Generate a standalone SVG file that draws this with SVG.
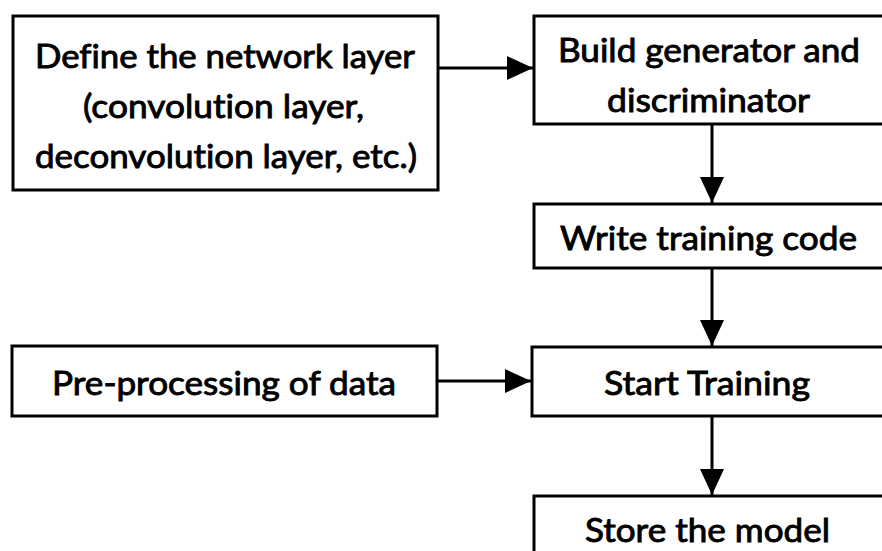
<svg xmlns="http://www.w3.org/2000/svg" width="882" height="551" viewBox="0 0 882 551">
<style>
.box{fill:#fff;stroke:#000;stroke-width:3}
.lbl{font-family:Lato,"Liberation Sans",sans-serif;font-size:33px;fill:#000;stroke:#000;stroke-width:0.9;text-anchor:middle;font-variant-ligatures:none}
.edge{stroke:#000;stroke-width:3;fill:none}
</style>
<defs>
<marker id="arr" markerUnits="userSpaceOnUse" markerWidth="28" markerHeight="26" refX="26" refY="12" orient="auto">
<path d="M0,0 L26,12 L0,24 Z" fill="#000"/>
</marker>
</defs>
<rect width="882" height="551" fill="#fff"/>
<g id="connectors">
<line class="edge" x1="438" y1="68" x2="533" y2="68" marker-end="url(#arr)"/>
<line class="edge" x1="712" y1="124" x2="712" y2="203" marker-end="url(#arr)"/>
<line class="edge" x1="712" y1="268" x2="712" y2="346" marker-end="url(#arr)"/>
<line class="edge" x1="437" y1="381" x2="531" y2="381" marker-end="url(#arr)"/>
<line class="edge" x1="712" y1="416" x2="712" y2="495" marker-end="url(#arr)"/>
</g>
<g id="define">
<rect class="box" x="13" y="16" width="425" height="174"/>
<text class="lbl" x="225" y="68" textLength="380" lengthAdjust="spacingAndGlyphs">Define the network layer</text>
<text class="lbl" x="223.5" y="118" textLength="281" lengthAdjust="spacingAndGlyphs">(convolution layer,</text>
<text class="lbl" x="226" y="168" textLength="382" lengthAdjust="spacingAndGlyphs">deconvolution layer, etc.)</text>
</g>
<g id="build">
<rect class="box" x="534" y="16" width="352" height="108"/>
<text class="lbl" x="709" y="62" textLength="302" lengthAdjust="spacingAndGlyphs">Build generator and</text>
<text class="lbl" x="708.5" y="112" textLength="203" lengthAdjust="spacingAndGlyphs">discriminator</text>
</g>
<g id="write">
<rect class="box" x="534" y="204" width="352" height="64"/>
<text class="lbl" x="708.5" y="250" textLength="297" lengthAdjust="spacingAndGlyphs">Write training code</text>
</g>
<g id="preprocess">
<rect class="box" x="12" y="346" width="425" height="70"/>
<text class="lbl" x="224" y="395" textLength="344" lengthAdjust="spacingAndGlyphs">Pre-processing of data</text>
</g>
<g id="start">
<rect class="box" x="532" y="347" width="354" height="69"/>
<text class="lbl" x="707" y="395" textLength="206" lengthAdjust="spacingAndGlyphs">Start Training</text>
</g>
<g id="store">
<rect class="box" x="534" y="496" width="352" height="70"/>
<text class="lbl" x="707.5" y="542" textLength="245" lengthAdjust="spacingAndGlyphs">Store the model</text>
</g>
</svg>
